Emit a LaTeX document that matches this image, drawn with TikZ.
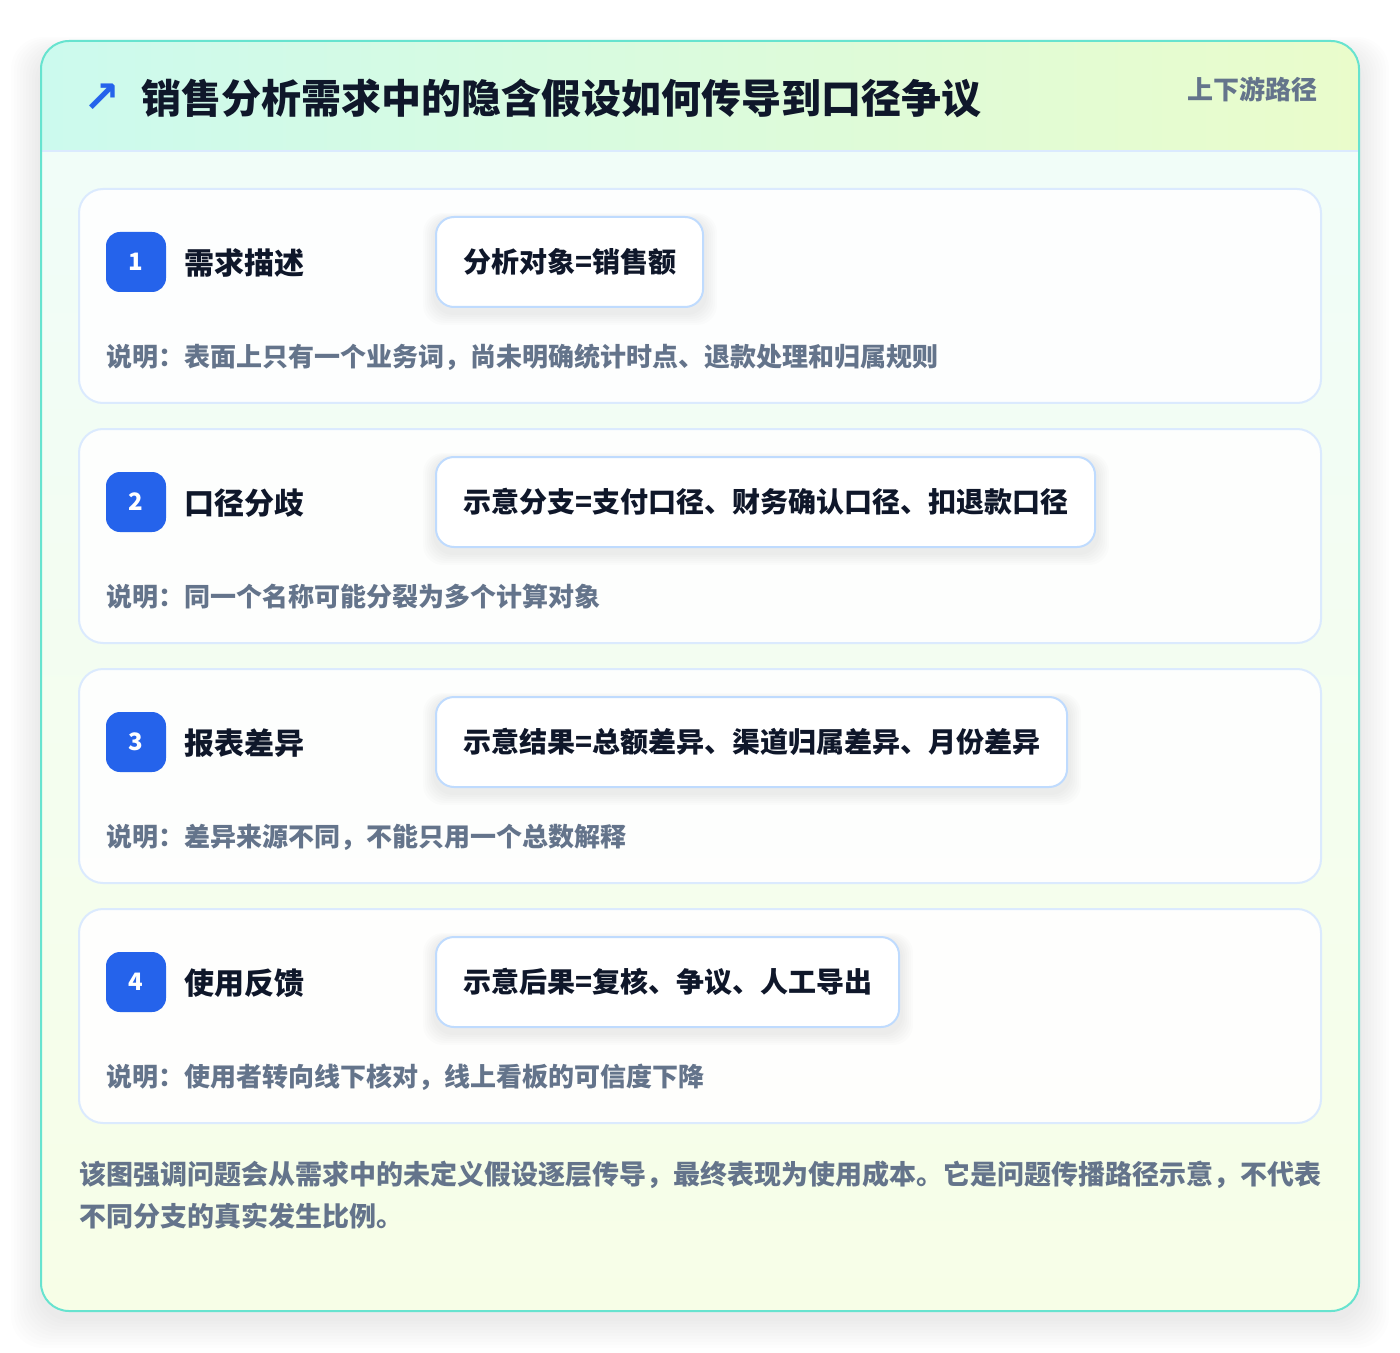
\documentclass[tikz,border=0pt]{standalone}
\usepackage{fontspec}
\setmainfont{Noto Sans CJK SC}
\newfontfamily\symfont{DejaVu Sans}
\definecolor{cardline}{HTML}{67E3CF}
\definecolor{headl}{HTML}{CCFAEE}
\definecolor{headr}{HTML}{EAFCCB}
\definecolor{bodytop}{HTML}{F0FDFA}
\definecolor{bodybot}{HTML}{F7FEE7}
\definecolor{stepline}{HTML}{DBEAFE}
\definecolor{boxline}{HTML}{BFDBFE}
\definecolor{badgeblue}{HTML}{2563EB}
\definecolor{ink}{HTML}{0F172A}
\definecolor{slate}{HTML}{64748B}
\tikzset{
	stepcard/.style={draw=stepline,line width=1pt,fill=white,fill opacity=0.9,text opacity=1,rounded corners=12pt,minimum width=621pt,minimum height=107pt,inner sep=0pt},
	badge/.style={fill=badgeblue,rounded corners=7pt,minimum size=30pt,inner sep=0pt,text=white,font=\bfseries\fontsize{12}{12}\selectfont},
	steplabel/.style={anchor=west,inner sep=0pt,text=ink,font=\bfseries\fontsize{15}{15}\selectfont},
	valbox/.style={anchor=west,draw=boxline,line width=1pt,fill=white,rounded corners=9pt,minimum height=45pt,inner xsep=13.5pt,text=ink,font=\bfseries\fontsize{14}{14}\selectfont},
	note/.style={anchor=west,inner sep=0pt,text=slate,font=\bfseries\fontsize{13}{13}\selectfont}
}
\begin{document}
\begin{tikzpicture}[x=0.5pt,y=-0.5pt]
	\useasboundingbox (0,0) rectangle (1400,1352);
	\fill[white] (0,0) rectangle (1400,1352);

	% soft shadow of the card
	\foreach \k in {1,...,10}
		\fill[black,opacity=0.007,rounded corners=16pt] (41-\k*3,52-\k*1.5) rectangle (1359+\k*3,1318+\k*3);

	\begin{scope}
		\clip[rounded corners=14pt] (41,41) rectangle (1359,1311);
		\shade[top color=bodytop,bottom color=bodybot] (41,41) rectangle (1359,1311);
		\shade[left color=headl,right color=headr] (41,41) rectangle (1359,151);
		\draw[stepline,line width=1pt] (41,151) -- (1359,151);
	\end{scope}
	\draw[cardline,line width=1pt,rounded corners=14pt] (41,41) rectangle (1359,1311);

	\node[text=badgeblue,font=\symfont\bfseries\fontsize{22}{22}\selectfont,inner sep=0pt] (icon) at (102,98) {↗};
	\node[anchor=west,inner sep=0pt,text=ink,font=\bfseries\fontsize{20}{20}\selectfont] (title) at (141,98) {销售分析需求中的隐含假设如何传导到口径争议};
	\node[anchor=east,inner sep=0pt,text=slate,font=\bfseries\fontsize{13}{13}\selectfont] (tag) at (1318,89) {上下游路径};

	\foreach \n/\lab/\val/\xe/\desc in {
		1/需求描述/分析对象=销售额/705/说明：表面上只有一个业务词，尚未明确统计时点、退款处理和归属规则,
		2/口径分歧/示意分支=支付口径、财务确认口径、扣退款口径/1097/说明：同一个名称可能分裂为多个计算对象,
		3/报表差异/示意结果=总额差异、渠道归属差异、月份差异/1069/说明：差异来源不同，不能只用一个总数解释,
		4/使用反馈/示意后果=复核、争议、人工导出/901/说明：使用者转向线下核对，线上看板的可信度下降}{
		\pgfmathsetmacro{\yy}{189+240*(\n-1)}
		\node[stepcard] (card\n) at (700,\yy+107) {};
		\foreach \s in {1,...,6}
			\fill[black,opacity=0.01,rounded corners=10pt] (435-\s*2,\yy+30-\s) rectangle (\xe+\s*2,\yy+124+\s*2);
		\node[badge] (badge\n) at (136,\yy+73) {\n};
		\node[steplabel] (label\n) at (184,\yy+74) {\lab};
		\node[valbox] (val\n) at (435,\yy+73) {\val};
		\node[note] (note\n) at (106,\yy+168) {\desc};
	}

	\node[anchor=north west,inner sep=0pt,align=left,text=slate,font=\bfseries\fontsize{13.5}{21}\selectfont] (footer) at (79,1161)
		{该图强调问题会从需求中的未定义假设逐层传导，最终表现为使用成本。它是问题传播路径示意，不代表\\不同分支的真实发生比例。};
\end{tikzpicture}
\end{document}
